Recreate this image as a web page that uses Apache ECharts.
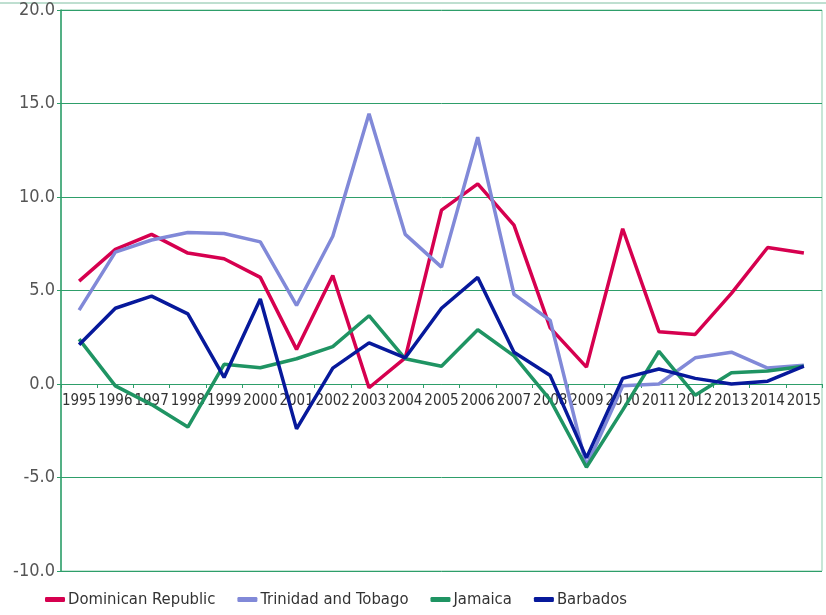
<!DOCTYPE html>
<html>
<head>
<meta charset="utf-8">
<script src="https://cdn.jsdelivr.net/npm/echarts@6/dist/echarts.min.js"></script>
<style>
html,body{margin:0;padding:0;background:#fff;}
#main{width:826px;height:615px;}
</style>
</head>
<body>
<div id="main"></div>
<script>
var years = ['1995','1996','1997','1998','1999','2000','2001','2002','2003','2004','2005','2006','2007','2008','2009','2010','2011','2012','2013','2014','2015'];
var dominican = [5.5,7.2,8.0,7.0,6.7,5.7,1.85,5.8,-0.2,1.4,9.3,10.7,8.5,3.0,0.9,8.3,2.8,2.65,4.85,7.3,7.0];
var trinidad = [3.95,7.05,7.7,8.1,8.05,7.6,4.2,7.9,14.45,8.0,6.25,13.2,4.8,3.4,-4.4,-0.1,0.0,1.4,1.7,0.85,1.0];
var jamaica = [2.4,-0.1,-1.1,-2.3,1.05,0.87,1.35,2.0,3.65,1.35,0.95,2.9,1.5,-0.85,-4.45,-1.4,1.75,-0.6,0.6,0.7,0.95];
var barbados = [2.1,4.05,4.7,3.75,0.35,4.55,-2.4,0.85,2.2,1.4,4.05,5.7,1.7,0.45,-3.95,0.3,0.8,0.3,0.0,0.15,0.95];
var yTicks = [-10, 20, 5];

var names = ['Dominican Republic','Trinidad and Tobago','Jamaica','Barbados'];
var colors = ['#d6004f','#8189d8','#1f9463','#07199b'];
var green = '#2e9e6a';
var font = '"DejaVu Sans Condensed", sans-serif';

function mk(i, data){
	return {
		name: names[i],
		type: 'line',
		data: data,
		symbol: 'none',
		lineStyle: {width: 3.5, color: colors[i]},
		itemStyle: {color: colors[i]},
		z: 3 + i
	};
}

var myChart = echarts.init(document.getElementById('main'));
var gridTop = 10, gridBottom = 44;
var plotH = 615 - gridTop - gridBottom;
// x axis sits on the zero line: shift it up from the bottom edge
var zeroOffset = -plotH * (0 - yTicks[0]) / (yTicks[1] - yTicks[0]);

var option = {
	animation: false,
	color: colors,
	grid: {
		left: 61, right: 4, top: gridTop, bottom: gridBottom,
		show: true, borderColor: '#8fcfae', borderWidth: 1
	},
	graphic: [{
		type: 'line', shape: {x1: 0, y1: 3, x2: 826, y2: 3},
		style: {stroke: '#7fbfa2', lineWidth: 1}
	}],
	xAxis: [{
		type: 'category',
		data: years,
		boundaryGap: true,
		offset: zeroOffset,
		axisLine: {onZero: false, lineStyle: {color: green, width: 1}},
		axisTick: {show: true, length: 4, lineStyle: {color: green}},
		axisLabel: {color: '#333', fontSize: 15, fontFamily: font, margin: 10, interval: 0},
		splitLine: {show: false}
	}],
	yAxis: {
		type: 'value',
		min: yTicks[0], max: yTicks[1], interval: yTicks[2],
		axisLine: {show: true, lineStyle: {color: green, width: 1.5}},
		axisTick: {show: true, length: 4, lineStyle: {color: green}},
		axisLabel: {
			color: '#555', fontSize: 18, fontFamily: font, margin: 6,
			formatter: function(v){ return v.toFixed(1); }
		},
		splitLine: {show: true, lineStyle: {color: green, width: 1}}
	},
	legend: {
		data: names,
		bottom: 2,
		left: 40,
		icon: 'roundRect',
		itemWidth: 20,
		itemHeight: 5,
		itemGap: 22,
		textStyle: {color: '#333', fontSize: 16.5, fontFamily: font, padding: [0,0,0,-2]}
	},
	series: [mk(0, dominican), mk(1, trinidad), mk(2, jamaica), mk(3, barbados)]
};
myChart.setOption(option);
</script>
</body>
</html>
